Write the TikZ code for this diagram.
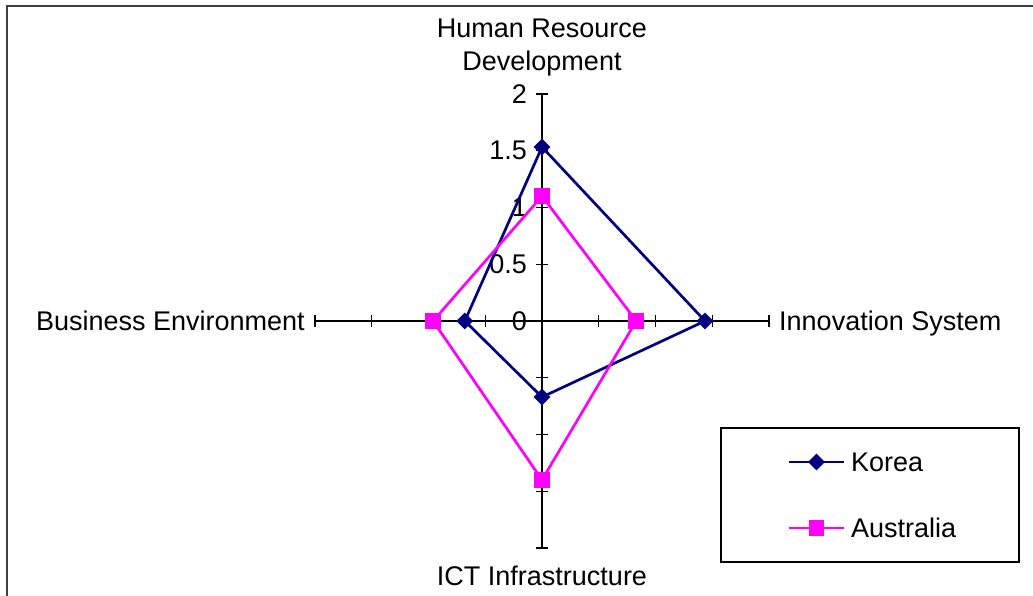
\documentclass[tikz,border=0pt]{standalone}
\usepackage{fontspec}
\setmainfont{Liberation Sans}
\usetikzlibrary{shapes.geometric}
\definecolor{korea}{HTML}{000080}
\definecolor{aus}{HTML}{FF00FF}
\definecolor{frame}{HTML}{404040}
\begin{document}
\begin{tikzpicture}[x=1pt,y=-1pt,
  lbl/.style={inner sep=0pt,font=\fontsize{27}{33}\selectfont},
  axisline/.style={black,line width=1.2pt},
  kline/.style={korea,line width=2.7pt,line join=miter},
  aline/.style={aus,line width=2.7pt,line join=miter},
  kmark/.style={diamond,fill=korea,inner sep=0pt,minimum size=17pt},
  amark/.style={rectangle,fill=aus,inner sep=0pt,minimum size=15.5pt},
]
\useasboundingbox (0,0) rectangle (1033,596);
% outer frame
\draw[frame,line width=2pt] (7,596) -- (7,6) -- (1033,6);

% radar centre and scale (113.5 px per unit)
\coordinate (o) at (542,321);
\def\u{113.5}

% axes
\coordinate (top) at (542,{321-2*\u});
\coordinate (bot) at (542,{321+2*\u});
\coordinate (lft) at ({542-2*\u},321);
\coordinate (rgt) at ({542+2*\u},321);
\draw[axisline] (top) -- (bot);
\draw[axisline] (lft) -- (rgt);
\foreach \k in {1,2,3,4}{
  \draw[axisline] ({536},{321-\k*\u/2}) -- ({548},{321-\k*\u/2});
  \draw[axisline] ({536},{321+\k*\u/2}) -- ({548},{321+\k*\u/2});
  \draw[axisline] ({542-\k*\u/2},315) -- ({542-\k*\u/2},327);
  \draw[axisline] ({542+\k*\u/2},315) -- ({542+\k*\u/2},327);
}

% scale labels
\node[lbl,anchor=east] (s0) at (527,321) {0};
\node[lbl,anchor=east] (s1) at (527,{321-0.5*\u}) {0.5};
\node[lbl,anchor=east] (s2) at (527,{321-1*\u}) {1};
\node[lbl,anchor=east] (s3) at (527,{321-1.5*\u}) {1.5};
\node[lbl,anchor=east] (s4) at (527,{321-2*\u}) {2};

% category labels
\node[lbl,align=center,anchor=center] (hrd) at (542,48) {Human Resource\\Development};
\node[lbl,anchor=base east] (be) at (305,330) {Business Environment};
\node[lbl,anchor=base west] (is) at (779,330) {Innovation System};
\node[lbl,anchor=center] (ict) at (542,576) {ICT Infrastructure};

% Korea series
\coordinate (k1) at (542,{321-1.533*\u});
\coordinate (k2) at ({542+1.436*\u},321);
\coordinate (k3) at (542,{321+0.67*\u});
\coordinate (k4) at ({542-0.68*\u},321);
% Australia series
\coordinate (a1) at (542,{321-1.10*\u});
\coordinate (a2) at ({542+0.83*\u},321);
\coordinate (a3) at (542,{321+1.40*\u});
\coordinate (a4) at ({542-0.96*\u},321);

\draw[kline] (k1) -- (k2) -- (k3) -- (k4) -- cycle;
\draw[aline] (a1) -- (a2) -- (a3) -- (a4) -- cycle;
\foreach \p in {k1,k2,k3,k4} \node[kmark] at (\p) {};
\foreach \p in {a1,a2,a3,a4} \node[amark] at (\p) {};

% legend
\draw[black,line width=1.2pt] (721,428) rectangle (1019,562);
\coordinate (lk1) at (789,462);
\coordinate (lk2) at (844,462);
\coordinate (la1) at (789,528);
\coordinate (la2) at (844,528);
\draw[kline] (lk1) -- (lk2);
\node[kmark] (lkm) at (816.5,462) {};
\draw[aline] (la1) -- (la2);
\node[amark] (lam) at (816.5,528) {};
\node[lbl,anchor=west] (lkt) at (851,462) {Korea};
\node[lbl,anchor=west] (lat) at (851,528) {Australia};
\end{tikzpicture}
\end{document}
